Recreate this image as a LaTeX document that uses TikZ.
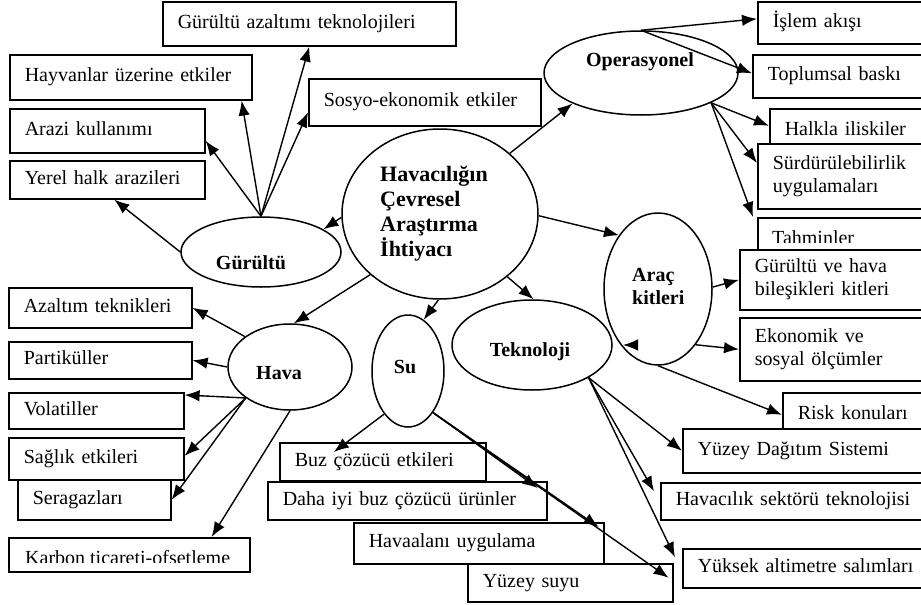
\documentclass[tikz,border=0pt]{standalone}
\usepackage{fontspec}
\setmainfont{Liberation Serif}
\usetikzlibrary{shapes.geometric,arrows.meta,calc}

\tikzset{
  box/.style={draw, line width=1.6pt, fill=white, anchor=north west,
    inner xsep=15pt, inner ysep=0pt, align=left,
    font=\fontsize{20}{23}\selectfont,
    execute at begin node=\strut, execute at end node=\strut},
  plaintext/.style={inner sep=0pt, font=\fontsize{20}{23}\selectfont},
  ell/.style={draw, ellipse, line width=1.5pt, fill=white, inner sep=0pt},
  etext/.style={font=\bfseries\fontsize{20}{23}\selectfont, inner sep=0pt, align=left},
  arr/.style={line width=1.4pt, -{Latex[length=15pt,width=11.5pt]}},
}

\newcommand{\mybox}[6]{%
  \pgfmathsetmacro{\bxw}{#4-#2}%
  \pgfmathsetmacro{\bxh}{#5-#3}%
  \pgfmathsetmacro{\bxt}{#4-#2-30}%
  \node[box, minimum width=\bxw pt, minimum height=\bxh pt, text width=\bxt pt] (#1) at (#2,#3) {#6};}

\begin{document}
\begin{tikzpicture}[x=1pt,y=-1pt]
\useasboundingbox (0,0) rectangle (921,605);
\fill[white] (0,0) rectangle (921,605);
\clip (0,0) rectangle (921,605);

% ---------- boxes: Gürültü group
\mybox{gat}{162}{1}{455}{45}{Gürültü azaltımı teknolojileri}
\mybox{hay}{9}{54}{251}{99}{Hayvanlar üzerine etkiler}
\mybox{arazi}{9}{108}{204}{152}{Arazi kullanımı}
\mybox{yerel}{9}{160}{204}{198}{Yerel halk arazileri}
\mybox{sos}{308}{78}{540}{125}{Sosyo-ekonomik etkiler}

% ---------- boxes: Operasyonel group
\mybox{isl}{757}{1}{940}{43}{İşlem akışı}
\mybox{tops}{752}{54}{940}{97}{Toplumsal baskı}
\mybox{halk}{769}{108}{940}{152}{Halkla iliskiler}
\mybox{sur}{757}{143}{940}{208}{Sürdürülebilirlik\\uygulamaları}
\mybox{tah}{757}{217}{940}{265}{}
\begin{scope}
  \clip (757,217) rectangle (940,242.5);
  \node[plaintext, anchor=base west] (tahT) at (772,244) {Tahminler};
\end{scope}

% ---------- boxes: Araç kitleri group
\mybox{gvh}{739}{249}{940}{309}{Gürültü ve hava\\bileşikleri kitleri}
\mybox{eko}{739}{317}{940}{380}{Ekonomik ve\\sosyal ölçümler}
\mybox{risk}{782}{392}{940}{436}{Risk konuları}

% ---------- boxes: Teknoloji group
\mybox{yds}{682}{428}{940}{472}{Yüzey Dağıtım Sistemi}
\mybox{hst}{660}{482}{940}{519}{Havacılık sektörü teknolojisi}
\mybox{yal}{682}{548}{940}{587}{Yüksek altimetre salımları}

% ---------- boxes: Su group
\mybox{buz}{279}{442}{485}{480}{Buz çözücü etkileri}
\mybox{daha}{267}{481}{546}{519}{Daha iyi buz çözücü ürünler}
\mybox{hav}{353}{522}{603}{563}{Havaalanı uygulama}
\mybox{ys}{467}{563}{672}{601}{Yüzey suyu}

% ---------- boxes: Hava group
\mybox{az}{8}{287}{191}{327}{Azaltım teknikleri}
\mybox{par}{8}{341}{191}{378}{Partiküller}
\mybox{vol}{8}{392}{183}{428}{Volatiller}
\mybox{sag}{8}{437}{183}{479}{Sağlık etkileri}
\mybox{sera}{17}{479}{170}{519}{Seragazları}
\mybox{kar}{8}{537}{249}{571}{}
\begin{scope}
  \clip (8,537) rectangle (249,562.5);
  \node[plaintext, anchor=base west] (karT) at (25,564) {Karbon ticareti-ofsetleme};
\end{scope}

% ---------- ellipses
\node[ell, minimum width=196pt, minimum height=170pt] (cen) at (440,214) {};
\node[etext, font=\bfseries\fontsize{22}{25}\selectfont, anchor=west] (cenT) at (380,214)
  {Havacılığın\\Çevresel\\Araştırma\\İhtiyacı};
\node[ell, minimum width=194pt, minimum height=84pt] (op) at (641,73) {};
\node[etext] (opT) at (640,62) {Operasyonel};
\node[ell, minimum width=160pt, minimum height=70pt] (gur) at (261,252) {};
\node[etext] (gurT) at (251,263) {Gürültü};
\node[ell, minimum width=124pt, minimum height=86pt] (hava) at (290,367) {};
\node[etext] (havaT) at (279,373) {Hava};
\node[ell, minimum width=72pt, minimum height=112pt] (su) at (408,371) {};
\node[etext] (suT) at (405,367) {Su};
\node[ell, minimum width=160pt, minimum height=90pt] (tek) at (532,345) {};
\node[etext] (tekT) at (530,352) {Teknoloji};
\node[ell, minimum width=108pt, minimum height=152pt] (arac) at (658,289) {};
\node[etext, anchor=west] (aracT) at (632,286) {Araç\\kitleri};

% ---------- connectors from the centre
\draw[arr] (cen.41) -- (op.204);
\draw[arr] (cen.182) -- (gur.20);
\draw[arr] (cen.221) -- (hava.85);
\draw[arr] (cen.269) -- (su.73);
\draw[arr] (cen.-43) -- (tek.88);
\draw[arr] (cen.-1) -- (arac.126);

% ---------- Gürültü
\draw[arr] (gur.west) -- ([xshift=7pt]yerel.south);
\draw[arr] (gur.north) -- ([yshift=-10pt]arazi.east);
\draw[arr] (gur.north) -- ([xshift=-11pt]hay.south east);
\draw[arr] (gur.north) -- (gat.south);
\draw[arr] (gur.north) -- ([yshift=-10pt]sos.west);

% ---------- Operasyonel
\draw[arr] (op.north) -- ([yshift=4pt]isl.west);
\draw[arr] (op.north) -- ([yshift=3pt]tops.west);
\draw[arr] (op.-23) -- ([yshift=5pt]halk.west);
\draw[arr] (op.-23) -- ([yshift=-20pt]sur.north west);
\draw[arr] (op.-23) -- ([xshift=-4pt]tah.north west);

% ---------- Araç kitleri
\draw[arr] (arac.2) -- (gvh.west);
\draw[arr] (arac.-56) -- (eko.west);
\draw[arr] (arac.south) -- (risk.west);
\coordinate (stray) at (623,345);
\draw[arr] ([xshift=15pt]stray) -- (stray);

% ---------- Teknoloji
\draw[arr] (tek.-30) -- (yds.west);
\draw[arr] (tek.-30) -- ([xshift=-6pt,yshift=10pt]hst.west);
\draw[arr] (tek.-30) -- ([xshift=-7pt,yshift=11pt]yal.west);

% ---------- Su
\draw[arr] (su.241) -- ([xshift=-49pt,yshift=-10pt]buz.north);
\draw[arr] (su.-59) -- ([xshift=-10pt,yshift=-7pt]daha.north east);
\draw[arr] (su.-59) -- ([xshift=-6pt,yshift=-5pt]hav.north east);
\draw[arr] (su.-59) -- ([xshift=-5pt,yshift=5pt]ys.east);

% ---------- Hava
\draw[arr] (hava.146) -- (az.east);
\draw[arr] (hava.180) -- (par.east);
\draw[arr] (hava.215) -- ([yshift=-3pt]vol.north east);
\draw[arr] (hava.215) -- ([yshift=3pt]sag.east);
\draw[arr] (hava.215) -- (sera.east);
\draw[arr] (hava.south) -- ([xshift=-39pt]kar.north east);
\end{tikzpicture}
\end{document}
